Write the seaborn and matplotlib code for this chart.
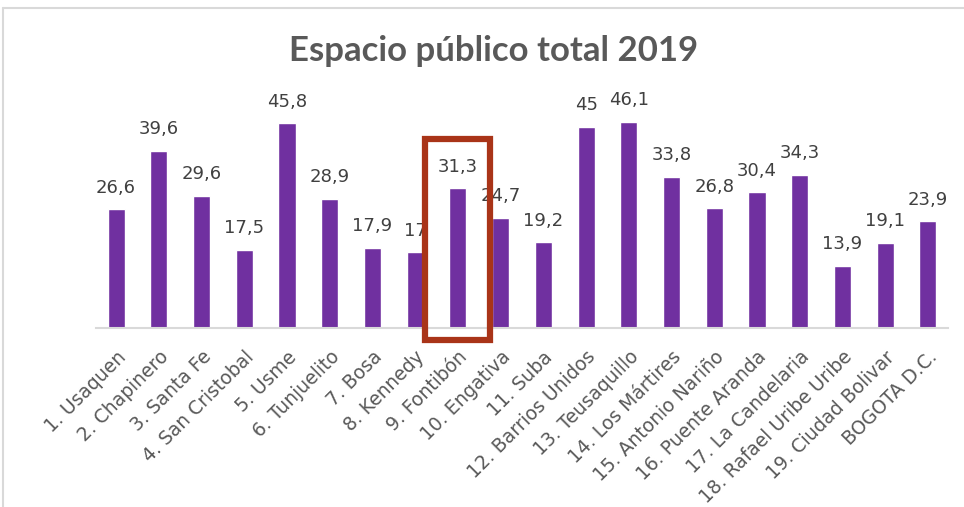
import matplotlib
matplotlib.use("Agg")
import matplotlib.pyplot as plt
from matplotlib.patches import Rectangle
from matplotlib.lines import Line2D
import seaborn as sns
import pandas as pd

localidades = [
    "1. Usaquen", "2. Chapinero", "3. Santa Fe", "4. San Cristobal", "5. Usme",
    "6. Tunjuelito", "7. Bosa", "8. Kennedy", "9. Fontibón", "10. Engativa",
    "11. Suba", "12. Barrios Unidos", "13. Teusaquillo", "14. Los Mártires",
    "15. Antonio Nariño", "16. Puente Aranda", "17. La Candelaria",
    "18. Rafael Uribe Uribe", "19. Ciudad Bolivar", "BOGOTA D.C.",
]
espacio_publico = [26.6, 39.6, 29.6, 17.5, 45.8, 28.9, 17.9, 17, 31.3, 24.7,
                   19.2, 45, 46.1, 33.8, 26.8, 30.4, 34.3, 13.9, 19.1, 23.9]
resaltada = "9. Fontibón"

df = pd.DataFrame({"localidad": localidades, "valor": espacio_publico})

sns.set_theme(style="white")
plt.rcParams["font.family"] = ["DejaVu Sans"]

W, H = 964, 507
fig = plt.figure(figsize=(W / 100, H / 100), dpi=100)
ax = fig.add_axes([96 / W, 1 - 328 / H, (948 - 96) / W, (328 - 104.5) / H])

sns.barplot(data=df, x="localidad", y="valor", color="#7030A0", saturation=1,
            width=0.4, ax=ax)

ax.set_xlim(-0.47, len(localidades) - 0.53)
ax.set_ylim(0, 50)
for s in ["top", "right", "left"]:
    ax.spines[s].set_visible(False)
ax.spines["bottom"].set_color("#D9D9D9")
ax.spines["bottom"].set_linewidth(1.5)
ax.set_yticks([])
ax.set_xlabel("")
ax.set_ylabel("")
ax.tick_params(axis="x", length=0, pad=14)
ax.set_xticks(range(len(localidades)))
ax.set_xticklabels(localidades, rotation=45, ha="right", rotation_mode="anchor",
                   fontsize=13.5, color="#595959", family="DejaVu Sans")

def fmt(v):
    return f"{v:g}".replace(".", ",")

for i, v in enumerate(espacio_publico):
    ax.annotate(fmt(v), (i, v), xytext=(0, 9), textcoords="offset points",
                ha="center", va="bottom", fontsize=13, color="#404040",
                annotation_clip=False)

# highlight box around Fontibón
k = localidades.index(resaltada)
ax.add_patch(Rectangle((k - 0.76, -2.7), 1.52, 45.0, fill=False,
                       edgecolor="#A93418", linewidth=4.5, clip_on=False,
                       zorder=5))

fig.text(0.512, 1 - 51 / H, "Espacio público total 2019", ha="center",
         va="center", fontsize=25, fontweight="bold", color="#595959",
         family="Lato")

# chart frame
fig.add_artist(Line2D([3 / W, 1.0], [1 - 8 / H, 1 - 8 / H], color="#D9D9D9",
                      linewidth=1.5, transform=fig.transFigure))
fig.add_artist(Line2D([3 / W, 3 / W], [0, 1 - 8 / H], color="#D9D9D9",
                      linewidth=1.5, transform=fig.transFigure))

fig.savefig("out.png", dpi=100)
